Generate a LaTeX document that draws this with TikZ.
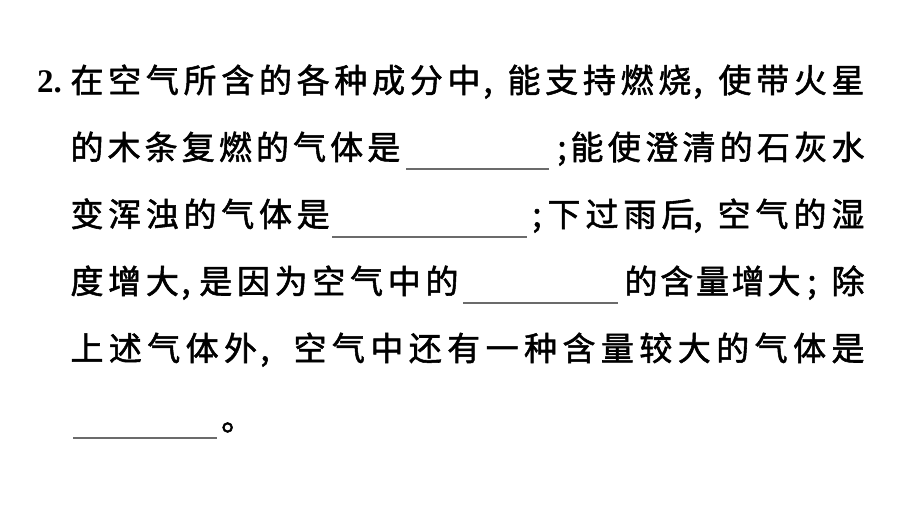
\documentclass[tikz,border=0pt]{standalone}
\usepackage{fontspec}
\newfontfamily\cjk{Noto Sans CJK SC}[FakeBold=1.6]
\newfontfamily\numfont{Liberation Serif}
\tikzset{
  x=1pt, y=-1pt,
  glyph/.style={inner sep=0pt, anchor=base, text=black,
    font=\cjk\fontsize{33}{33}\selectfont},
  punct/.style={glyph},
  numlabel/.style={inner sep=0pt, anchor=base west, text=black,
    font=\numfont\bfseries\fontsize{33}{33}\selectfont},
  blankline/.style={draw=black!58, line width=1.4pt}
}
\newcommand\cjkrow[5]{%
  \foreach \ch [count=\k from 0] in {#5} {
    \node[glyph] (#1\k) at ({#2+#3*\k}, #4) {\ch};
  }%
}
\begin{document}
\begin{tikzpicture}
\useasboundingbox[fill=white] (0,0) rectangle (900,506);
% line 1
\node[numlabel] (num) at (37,92) {2.};
\cjkrow{la}{87}{37.7}{92.5}{在,空,气,所,含,的,各,种,成,分,中}
\node[punct] (la-c1) at (488,92.5) {,};
\cjkrow{lb}{524}{37.7}{92.5}{能,支,持,燃,烧}
\node[punct] (lb-c1) at (698,92.5) {,};
\cjkrow{lc}{734.9}{37.7}{92.5}{使,带,火,星}
% line 2
\cjkrow{ma}{87}{37.1}{159.5}{的,木,条,复,燃,的,气,体,是}
\coordinate (u1a) at (406,169); \coordinate (u1b) at (549,169);
\draw[blankline] (u1a) -- (u1b);
\node[punct] (mb-s) at (562,159.5) {;};
\cjkrow{mb}{587}{37.3}{159.5}{能,使,澄,清,的,石,灰,水}
% line 3
\cjkrow{na}{87}{37.7}{226.5}{变,浑,浊,的,气,体,是}
\coordinate (u2a) at (332,237); \coordinate (u2b) at (527,237);
\draw[blankline] (u2a) -- (u2b);
\node[punct] (nb-s) at (537,226.5) {;};
\cjkrow{nb}{564}{38}{226.5}{下,过,雨,后}
\node[punct] (nb-c) at (698,226.5) {,};
\cjkrow{nc}{734}{38}{226.5}{空,气,的,湿}
% line 4
\cjkrow{oa}{87}{37.7}{293.5}{度,增,大}
\node[punct] (oa-c) at (186,293.5) {,};
\cjkrow{ob}{215.8}{37.7}{293.5}{是,因,为,空,气,中,的}
\coordinate (u3a) at (463,303); \coordinate (u3b) at (618,303);
\draw[blankline] (u3a) -- (u3b);
\cjkrow{oc}{641}{35.75}{293.5}{的,含,量,增,大}
\node[punct] (oc-s) at (812,293.5) {;};
\node[glyph] (od0) at (848,293.5) {除};
% line 5
\cjkrow{pa}{87}{38.4}{360.5}{上,述,气,体,外}
\node[punct] (pa-c) at (265,360.5) {,};
\cjkrow{pb}{310}{38.43}{360.5}{空,气,中,还,有,一,种,含,量,较,大,的,气,体,是}
% line 6
\coordinate (u4a) at (73,438); \coordinate (u4b) at (217,438);
\draw[blankline] (u4a) -- (u4b);
\node[glyph, anchor=base west] (stop) at (221,430.5) {。};
\end{tikzpicture}
\end{document}
